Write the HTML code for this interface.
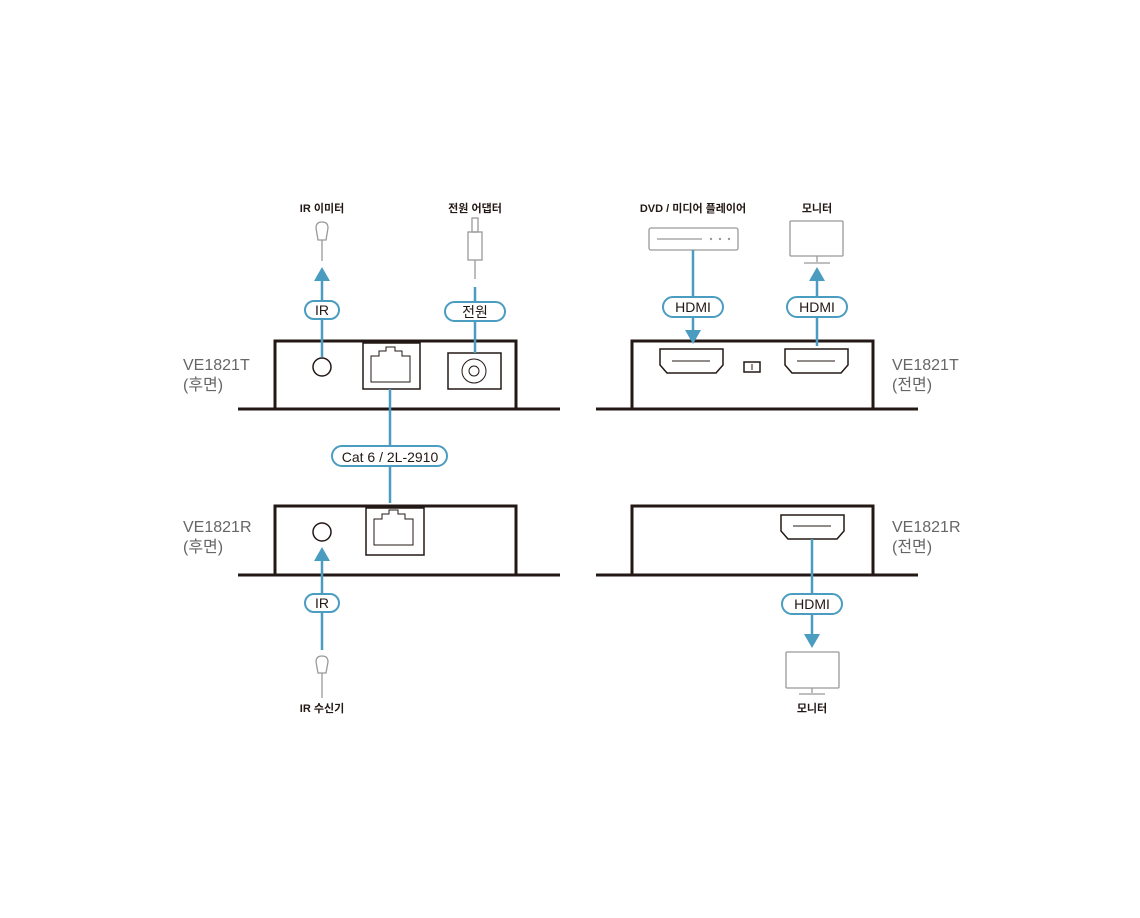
<!DOCTYPE html>
<html><head><meta charset="utf-8"><style>
html,body{margin:0;padding:0;background:#fff;}
svg text{font-family:"Liberation Sans","Noto Sans CJK KR",sans-serif;}
</style></head><body>
<svg width="1140" height="913" viewBox="0 0 1140 913" xmlns="http://www.w3.org/2000/svg">
<g fill="none" stroke="#231815" stroke-width="3">
<path d="M275 409 V341 H516 V409"/>
<line x1="238" y1="409" x2="560" y2="409"/>
<path d="M275 575 V506 H516 V575"/>
<line x1="238" y1="575" x2="560" y2="575"/>
<path d="M632 409 V341 H873 V409"/>
<line x1="596" y1="409" x2="918" y2="409"/>
<path d="M632 575 V506 H873 V575"/>
<line x1="596" y1="575" x2="918" y2="575"/>
</g>
<g fill="none" stroke="#231815" stroke-width="1.5">
<circle cx="322" cy="367" r="9"/>
<rect x="363" y="343" width="57" height="46"/>
<path d="M371 382 V356 H379 V351 H386 V347 H395 V351 H402 V356 H410 V382 Z" stroke-width="1"/>
<rect x="448" y="353" width="53" height="36"/>
<circle cx="474" cy="371" r="12" stroke-width="1"/>
<circle cx="474" cy="371" r="5" stroke-width="1"/>
<circle cx="322" cy="532" r="9"/>
<rect x="366" y="508" width="58" height="47"/>
<path d="M374 545 V519 H382 V514 H389 V510 H398 V514 H405 V519 H413 V545 Z" stroke-width="1"/>
<path d="M660 349 H723 V365 L716 373 H667 L660 365 Z"/>
<line x1="672" y1="361" x2="710" y2="361" stroke-width="1"/>
<path d="M785 349 H848 V365 L841 373 H792 L785 365 Z"/>
<line x1="797" y1="361" x2="835" y2="361" stroke-width="1"/>
<rect x="744" y="362" width="16" height="10"/>
<line x1="752" y1="364" x2="752" y2="370" stroke-width="1"/>
<path d="M781 515 H844 V531 L837 539 H788 L781 531 Z"/>
<line x1="793" y1="526" x2="831" y2="526" stroke-width="1"/>
</g>
<g fill="none" stroke="#999" stroke-width="1.3">
<path d="M318 240 L316 228 Q316 222 322 222 Q328 222 328 228 L326 240 Z"/>
<line x1="322" y1="240" x2="322" y2="261"/>
<rect x="472" y="218" width="6" height="14"/>
<rect x="468" y="232" width="14" height="28"/>
<line x1="475" y1="260" x2="475" y2="279"/>
<path d="M318 673 L316 662 Q316 656 322 656 Q328 656 328 662 L326 673 Z"/>
<line x1="322" y1="673" x2="322" y2="698"/>
<rect x="649" y="228" width="89" height="22" rx="2"/>
<line x1="657" y1="239" x2="702" y2="239"/>
<rect x="790" y="221" width="53" height="35" rx="1"/>
<line x1="817" y1="256" x2="817" y2="262"/>
<line x1="804" y1="263" x2="830" y2="263"/>
<rect x="786" y="652" width="53" height="36" rx="1"/>
<line x1="812" y1="688" x2="812" y2="693"/>
<line x1="799" y1="694" x2="825" y2="694"/>
</g>
<g fill="#999"><circle cx="711" cy="239" r="1.2"/><circle cx="720" cy="239" r="1.2"/><circle cx="729" cy="239" r="1.2"/></g>
<g stroke="#4a9cc0" stroke-width="2.5" fill="none">
<line x1="322" y1="357" x2="322" y2="280"/>
<line x1="475" y1="353" x2="475" y2="287"/>
<line x1="390" y1="389" x2="390" y2="503"/>
<line x1="322" y1="560" x2="322" y2="650"/>
<line x1="693" y1="250" x2="693" y2="331"/>
<line x1="817" y1="346" x2="817" y2="280"/>
<line x1="812" y1="539" x2="812" y2="635"/>
</g>
<g fill="#4a9cc0">
<polygon points="322,267 314,281 330,281"/>
<polygon points="322,547 314,561 330,561"/>
<polygon points="693,344 685,330 701,330"/>
<polygon points="817,267 809,281 825,281"/>
<polygon points="812,648 804,634 820,634"/>
</g>
<g fill="#fff" stroke="#4a9cc0" stroke-width="2">
<rect x="305" y="301" width="34" height="18" rx="9"/>
<rect x="445" y="302" width="60" height="19" rx="9.5"/>
<rect x="332" y="446" width="115" height="20" rx="10"/>
<rect x="305" y="594" width="34" height="18" rx="9"/>
<rect x="663" y="297" width="60" height="20" rx="10"/>
<rect x="787" y="297" width="60" height="20" rx="10"/>
<rect x="782" y="594" width="60" height="20" rx="10"/>
</g>
<g fill="#231815" font-size="14" text-anchor="middle">
<text x="322" y="315">IR</text>
<text x="475" y="317">전원</text>
<text x="390" y="462">Cat 6 / 2L-2910</text>
<text x="322" y="608">IR</text>
<text x="693" y="312">HDMI</text>
<text x="817" y="312">HDMI</text>
<text x="812" y="609">HDMI</text>
</g>
<g fill="#231815" font-size="11" text-anchor="middle" font-weight="bold">
<text x="322" y="212">IR 이미터</text>
<text x="475" y="212">전원 어댑터</text>
<text x="693" y="212">DVD / 미디어 플레이어</text>
<text x="817" y="212">모니터</text>
<text x="322" y="712">IR 수신기</text>
<text x="812" y="712">모니터</text>
</g>
<g fill="#666" font-size="16">
<text x="183" y="370">VE1821T</text><text x="183" y="390">(후면)</text>
<text x="183" y="532">VE1821R</text><text x="183" y="552">(후면)</text>
<text x="892" y="370">VE1821T</text><text x="892" y="390">(전면)</text>
<text x="892" y="532">VE1821R</text><text x="892" y="552">(전면)</text>
</g>
</svg>
</body></html>
